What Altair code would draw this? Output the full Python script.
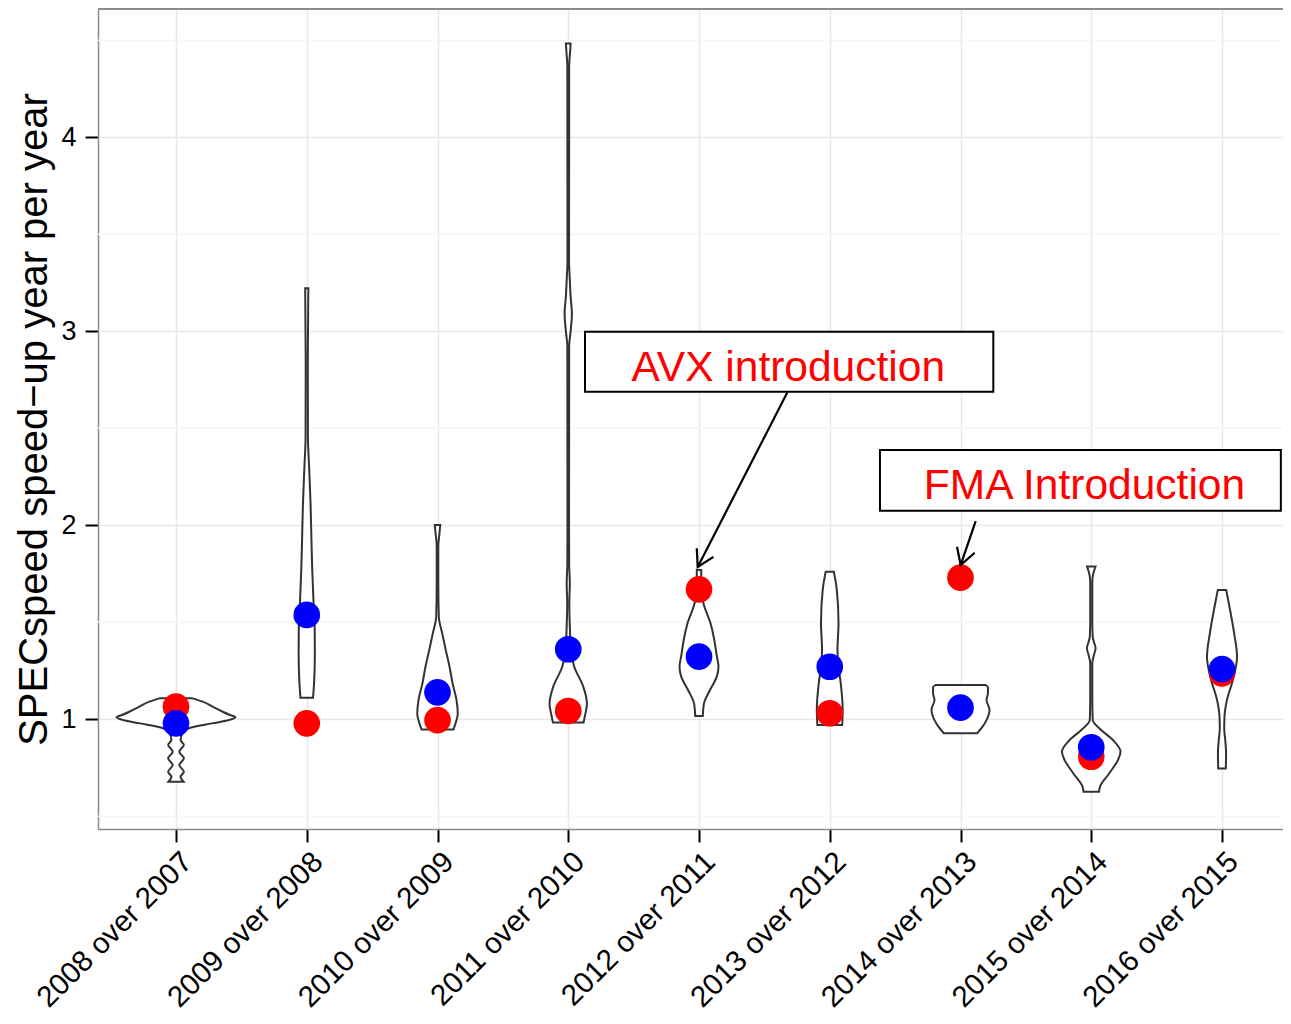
import json
import math
import altair as alt
import pandas as pd

# ---------------- data ----------------
categories = ["2008 over 2007", "2009 over 2008", "2010 over 2009", "2011 over 2010",
              "2012 over 2011", "2013 over 2012", "2014 over 2013", "2015 over 2014",
              "2016 over 2015"]
red_values = [1.065, 0.979, 0.996, 1.043, 1.670, 1.031, 1.730, 0.807, 1.237]
blue_values = [0.979, 1.538, 1.139, 1.361, 1.323, 1.271, 1.060, 0.856, 1.259]

# violin outlines: y values and half-widths (in category units)
violin_y = [
    [0.678, 0.704, 0.730, 0.764, 0.799, 0.833, 0.868, 0.893, 0.928, 0.954, 0.979, 0.996, 1.010, 1.022, 1.039, 1.065, 1.091, 1.108],
    [1.111, 1.2, 1.34, 1.46, 1.6, 1.77, 1.95, 2.113, 2.3, 2.457, 2.8, 3.222],
    [0.948, 0.979, 1.031, 1.1, 1.186, 1.271, 1.357, 1.443, 1.529, 1.7, 1.89, 1.96, 2.002],
    [0.983, 1.013, 1.082, 1.168, 1.271, 1.36, 1.46, 1.6, 1.7, 1.8, 2.0, 2.92, 3.0, 3.091, 3.18, 3.264, 3.368, 4.364, 4.45, 4.483],
    [1.017, 1.082, 1.151, 1.22, 1.271, 1.33, 1.409, 1.495, 1.598, 1.7, 1.77],
    [0.971, 1.048, 1.187, 1.28, 1.357, 1.496, 1.667, 1.761],
    [0.928, 0.954, 0.996, 1.048, 1.1, 1.134, 1.165, 1.177],
    [0.627, 0.653, 0.722, 0.79, 0.833, 0.893, 0.945, 0.996, 1.1, 1.289, 1.33, 1.366, 1.40, 1.426, 1.5, 1.70, 1.735, 1.787],
    [0.747, 0.825, 0.893, 0.95, 1.013, 1.1, 1.203, 1.323, 1.443, 1.58, 1.667],
]
violin_halfwidth = [
    [0.058, 0.035, 0.06, 0.025, 0.06, 0.025, 0.06, 0.035, 0.05, 0.10, 0.275, 0.405, 0.455, 0.413, 0.357, 0.28, 0.204, 0.126],
    [0.048, 0.057, 0.062, 0.061, 0.052, 0.042, 0.035, 0.029, 0.018, 0.009, 0.008, 0.012],
    [0.122, 0.138, 0.155, 0.145, 0.115, 0.092, 0.063, 0.036, 0.01, 0.006, 0.006, 0.015, 0.021],
    [0.117, 0.126, 0.143, 0.115, 0.046, 0.02, 0.013, 0.008, 0.012, 0.007, 0.006, 0.007, 0.018, 0.028, 0.018, 0.012, 0.006, 0.007, 0.015, 0.018],
    [0.029, 0.038, 0.084, 0.136, 0.149, 0.135, 0.117, 0.088, 0.034, 0.017, 0.017],
    [0.095, 0.099, 0.084, 0.065, 0.059, 0.067, 0.054, 0.031],
    [0.128, 0.16, 0.199, 0.222, 0.199, 0.21, 0.21, 0.189],
    [0.059, 0.067, 0.138, 0.204, 0.224, 0.166, 0.076, 0.011, 0.008, 0.008, 0.02, 0.033, 0.02, 0.011, 0.008, 0.008, 0.011, 0.032],
    [0.029, 0.031, 0.025, 0.017, 0.019, 0.038, 0.083, 0.115, 0.093, 0.057, 0.032],
]

y_ticks = [1, 2, 3, 4]
y_minor = [0.5, 1.5, 2.5, 3.5, 4.5]

annotation_text = ["AVX introduction", "FMA Introduction"]
annotation_x = [4.683, 6.948]
annotation_y = [2.744, 2.136]
box_x1 = [3.128, 5.384]
box_x2 = [6.251, 8.45]
box_y1 = [2.689, 2.075]
box_y2 = [2.998, 2.388]
arrow_from_x = [4.675, 6.116]
arrow_from_y = [2.684, 2.022]
arrow_to_x = [3.990, 6.001]
arrow_to_y = [1.785, 1.795]

# ---------------- layout ----------------
W, H = 1185, 820
X_DOMAIN = [-0.5966, 8.4665]
Y_DOMAIN = [0.4345, 4.6613]
FONT = "Liberation Sans"
Y_TITLE = "SPECspeed speed\u2212up year per year"

xscale = alt.Scale(domain=X_DOMAIN, nice=False, zero=False)
yscale = alt.Scale(domain=Y_DOMAIN, nice=False, zero=False)

label_expr = json.dumps(categories) + "[datum.value]"

x_axis = alt.Axis(values=list(range(len(categories))), labelExpr=label_expr,
                  labelAngle=-45, labelAlign="right", labelBaseline="top",
                  labelFontSize=29.5, labelFont=FONT, labelColor="black", labelLimit=600,
                  labelPadding=5, labelOffset=1, labelOverlap=False, labelFlush=False,
                  tickSize=13, tickWidth=2, tickColor="black",
                  domainColor="#8c8c8c", domainWidth=1.5,
                  grid=True, gridColor="#e8e8e8", gridWidth=1.5, title="")
y_axis = alt.Axis(values=y_ticks, labelFontSize=27, labelFont=FONT, labelColor="black",
                  labelPadding=9, tickSize=13, tickWidth=2, tickColor="black",
                  domainColor="#8c8c8c", domainWidth=1.5,
                  grid=True, gridColor="#e8e8e8", gridWidth=1.5,
                  title=Y_TITLE, titleFont=FONT,
                  titleFontSize=40, titleFontWeight="normal", titleColor="black",
                  titleX=-52, titleY=H / 2, titleBaseline="alphabetic", titleAlign="center")


def X(field):
    return alt.X(field, scale=xscale, axis=x_axis, title="")


def Y(field):
    return alt.Y(field, scale=yscale, axis=y_axis, title=Y_TITLE)


# ---------------- tables ----------------
vrows = []
for i, (ys, ws) in enumerate(zip(violin_y, violin_halfwidth)):
    for y, w in zip(ys, ws):
        vrows.append({"idx": i, "y": y, "hw": w})
violin_df = pd.DataFrame(vrows)

n = len(categories)
pts_red = pd.DataFrame({"idx": list(range(n)), "v": red_values})
pts_blue = pd.DataFrame({"idx": list(range(n)), "v": blue_values})
minor_df = pd.DataFrame({"idx": [0] * len(y_minor), "v": y_minor})
box_df = pd.DataFrame({"x1": box_x1, "x2": box_x2, "y1": box_y1, "y2": box_y2})
text_df = pd.DataFrame({"x": annotation_x, "y": annotation_y, "t": annotation_text})
arrow_df = pd.DataFrame({"x1": arrow_from_x, "y1": arrow_from_y,
                         "x2": arrow_to_x, "y2": arrow_to_y})

minor = alt.Chart(minor_df).mark_rule(color="#f5f5f5", strokeWidth=1.5).encode(
    y=Y("v:Q"))

violins = alt.Chart(violin_df).transform_calculate(
    left="datum.idx - datum.hw", right="datum.idx + datum.hw"
).mark_area(orient="horizontal", fill="white", stroke="#333333", strokeWidth=2,
            interpolate="monotone").encode(
    y=Y("y:Q"),
    x=X("left:Q"),
    x2="right:Q",
    detail="idx:N",
)

red = alt.Chart(pts_red).mark_point(filled=True, color="#ff0000", size=710, opacity=1,
                                    shape="circle").encode(x=X("idx:Q"), y=Y("v:Q"))
blue = alt.Chart(pts_blue).mark_point(filled=True, color="#0000ff", size=710, opacity=1,
                                      shape="circle").encode(x=X("idx:Q"), y=Y("v:Q"))

shafts = alt.Chart(arrow_df).mark_rule(color="black", strokeWidth=2.2).encode(
    x=X("x1:Q"), y=Y("y1:Q"), x2="x2:Q", y2="y2:Q")

px_x = W / (X_DOMAIN[1] - X_DOMAIN[0])
px_y = H / (Y_DOMAIN[1] - Y_DOMAIN[0])
heads = []
for i in range(len(arrow_from_x)):
    dx = (arrow_to_x[i] - arrow_from_x[i]) * px_x
    dy = -(arrow_to_y[i] - arrow_from_y[i]) * px_y
    ang = math.degrees(math.atan2(dy, dx)) % 360
    hd = pd.DataFrame({"x": [arrow_to_x[i]], "y": [arrow_to_y[i]]})
    heads.append(alt.Chart(hd).mark_point(
        shape="M -0.866 -0.5 L 0 0 L -0.866 0.5", filled=False, color="black",
        strokeWidth=2.2, size=1400, angle=ang, opacity=1).encode(
        x=X("x:Q"), y=Y("y:Q")))

boxes = alt.Chart(box_df).mark_rect(fill="white", stroke="black", strokeWidth=2).encode(
    x=X("x1:Q"), x2="x2:Q", y=Y("y1:Q"), y2="y2:Q")

texts = alt.Chart(text_df).mark_text(font=FONT, fontSize=42.5, color="#ff0000",
                                     align="center", baseline="alphabetic").encode(
    x=X("x:Q"), y=Y("y:Q"), text="t:N")

top_border = alt.Chart(minor_df).mark_rule(color="#8c8c8c", strokeWidth=1.5).encode(
    y=alt.value(0), x=alt.value(0), x2=alt.value(W))

chart = alt.layer(minor, violins, red, blue, shafts, *heads, boxes, texts, top_border).properties(
    width=W, height=H,
    autosize=alt.AutoSizeParams(type="none"),
    padding={"left": 90, "top": 1, "right": 0, "bottom": 186},
).configure_view(strokeOpacity=0).configure(background="white")

chart.save("out.html", embed_options={"renderer": "svg", "actions": False})
